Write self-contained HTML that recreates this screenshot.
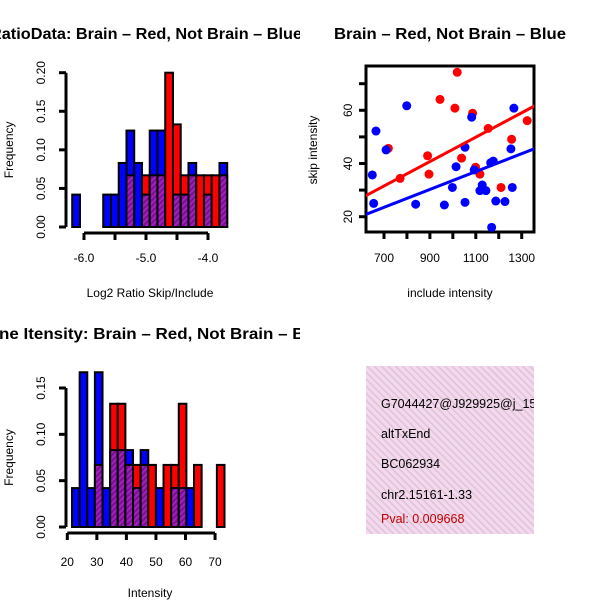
<!DOCTYPE html>
<html><head><meta charset="utf-8"><style>
html,body{margin:0;padding:0;background:#fff}
svg{display:block;font-family:"Liberation Sans",Arial,sans-serif}
</style></head><body>
<svg id="c" width="600" height="600" xmlns="http://www.w3.org/2000/svg">
<defs>
<pattern id="purp" patternUnits="userSpaceOnUse" width="4" height="4" patternTransform="rotate(45)">
<rect width="4" height="4" fill="#a020c0"/><rect width="2" height="4" fill="#7a1090"/></pattern>
<pattern id="pink" patternUnits="userSpaceOnUse" width="5" height="5" patternTransform="rotate(-45)">
<rect width="5" height="5" fill="#f6d6f0"/><rect width="1.5" height="5" fill="#d8c8d0"/></pattern>
<clipPath id="left"><rect x="0" y="0" width="300" height="600"/></clipPath>
<clipPath id="right"><rect x="300" y="0" width="300" height="600"/></clipPath>
<clipPath id="box"><rect x="366" y="66" width="168" height="166"/></clipPath>
<clipPath id="panel"><rect x="366" y="366" width="168" height="168"/></clipPath>
</defs>
<g clip-path="url(#left)">
<text x="-10" y="39" font-size="15.5" font-weight="bold" textLength="312" lengthAdjust="spacingAndGlyphs">RatioData: Brain – Red, Not Brain – Blue</text>
<text x="-1" y="339" font-size="15.5" font-weight="bold" textLength="330" lengthAdjust="spacingAndGlyphs">ne Itensity: Brain – Red, Not Brain – Blue</text>
</g>
<g clip-path="url(#right)">
<text x="450" y="39" font-size="15.5" font-weight="bold" text-anchor="middle" textLength="232" lengthAdjust="spacingAndGlyphs">Brain – Red, Not Brain – Blue</text>
</g>
<g id="h1"></g>
<g id="h2"></g>
<g id="sc"></g>
<g clip-path="url(#panel)" font-size="12.5">
<rect x="366" y="366" width="168" height="168" fill="url(#pink)"/>
<text x="381" y="408">G7044427@J929925@j_151</text>
<text x="381" y="438">altTxEnd</text>
<text x="381" y="468">BC062934</text>
<text x="381" y="499">chr2.15161-1.33</text>
<text x="381" y="523" fill="#c00000">Pval: 0.009668</text>
</g>
</svg>
<script>
// Histogram 1 data (log2 ratio)
const h1Start = -6.19, h1Width = 0.125;
const h1Red  = [0,0,0,0,0,0,0,0.067,0,0.067,0.067,0.067,0.2,0.133,0.067,0.067,0.067,0.067,0.067,0.067];
const h1Blue = [0.042,0,0,0,0.042,0.042,0.083,0.125,0.083,0.042,0.125,0.125,0,0.042,0.042,0.083,0,0.042,0,0.083];
const h1XTicks = [-6.0,-5.5,-5.0,-4.5,-4.0];
const h1XLabels = ["-6.0","","-5.0","","-4.0"];
const h1YTicks = [0,0.05,0.10,0.15,0.20];
const h1YLabels = ["0.00","0.05","0.10","0.15","0.20"];
// Histogram 2 data (intensity)
const h2Start = 21.6, h2Width = 2.58;
const h2Red  = [0,0,0,0.067,0,0.133,0.133,0.067,0.067,0.067,0.067,0,0.067,0.067,0.133,0,0.067,0,0,0.067];
const h2Blue = [0.042,0.167,0.042,0.167,0.042,0.083,0.083,0.083,0.042,0.083,0,0.042,0,0.042,0.042,0.042,0,0,0,0];
const h2XTicks = [20,30,40,50,60,70];
const h2YTicks = [0,0.05,0.10,0.15];
const h2YLabels = ["0.00","0.05","0.10","0.15"];
// Scatter data
const redX = [1019,944,1009,1086,719,770,890,896,1038,1099,1118,1154,1256,1324,1210];
const redY = [74.3,64.1,60.8,58.9,45.7,34.4,42.9,36,42,38.6,36,53.2,49.1,56.1,31];
const blueX = [799,665,709,649,655,838,963,998,1014,1053,1053,1082,1093,1128,1118,1144,1165,1176,1169,1187,1227,1253,1259,1266];
const blueY = [61.7,52.2,45.1,35.7,25,24.7,24.4,31,38.8,46.1,25.4,57.4,37.6,31.9,29.8,29.8,40.3,40.9,16,25.9,25.7,45.5,31,60.8];
// trend lines: [intercept, slope]
const redLine = [-0.57, 0.04587];
const blueLine = [0.0, 0.03361];
const scXTicks = [700,800,900,1000,1100,1200,1300];
const scXLabels = ["700","","900","","1100","","1300"];
const scYTicks = [20,30,40,50,60,70];
const scYLabels = ["20","","40","","60",""];

const NS="http://www.w3.org/2000/svg";
function mk(parent,tag,attrs,text){const e=document.createElementNS(NS,tag);for(const k in attrs)e.setAttribute(k,attrs[k]);if(text!==undefined)e.textContent=text;parent.appendChild(e);return e;}

function hist(gid,start,width,red,blue,xs,ys,xTicks,xLabels,yTicks,yLabels,yAxisX,xAxisY,yTickLabX,xTickLabY,xTitle,xTitleY,yTitleX){
  const g=document.getElementById(gid);
  red.forEach((r,i)=>{
    const b=blue[i];
    const x0=xs(start+i*width), x1=xs(start+(i+1)*width);
    const top=Math.max(r,b), lo=Math.min(r,b);
    if(top>0){
      const el=mk(g,'rect',{x:x0,y:ys(top),width:x1-x0,height:ys(0)-ys(top),fill:r>=b?'#ff0000':'#0000ff',stroke:'#000','stroke-width':2});
      
      
    }
    if(lo>0){
      const el=mk(g,'rect',{x:x0,y:ys(lo),width:x1-x0,height:ys(0)-ys(lo),fill:'url(#purp)',stroke:'#000','stroke-width':2});
      
      
    }
  });
  const ya=mk(g,'g',{});
  
  
  mk(ya,'line',{x1:yAxisX,x2:yAxisX,y1:ys(yTicks[0]),y2:ys(yTicks[yTicks.length-1]),stroke:'#000','stroke-width':3});
  yTicks.forEach((t,i)=>{
    mk(ya,'line',{x1:yAxisX-7,x2:yAxisX,y1:ys(t),y2:ys(t),stroke:'#000','stroke-width':3});
    const tl=mk(ya,'text',{x:yTickLabX,y:ys(t),'font-size':12,'text-anchor':'middle',transform:`rotate(-90 ${yTickLabX} ${ys(t)})`},yLabels[i]);
    
    
  });
  const my=(ys(yTicks[0])+ys(yTicks[yTicks.length-1]))/2;
  const yt=mk(ya,'text',{x:yTitleX,y:my,'font-size':12,'text-anchor':'middle',transform:`rotate(-90 ${yTitleX} ${my})`},'Frequency');
  
  
  const xa=mk(g,'g',{});
  
  
  mk(xa,'line',{x1:xs(xTicks[0]),x2:xs(xTicks[xTicks.length-1]),y1:xAxisY,y2:xAxisY,stroke:'#000','stroke-width':3});
  xTicks.forEach((t,i)=>{
    mk(xa,'line',{x1:xs(t),x2:xs(t),y1:xAxisY,y2:xAxisY+7,stroke:'#000','stroke-width':3});
    const tl=mk(xa,'text',{x:xs(t),y:xTickLabY,'font-size':12,'text-anchor':'middle'},xLabels[i]);
    
    
  });
  const xt=mk(xa,'text',{x:150,y:xTitleY,'font-size':12,'text-anchor':'middle'},xTitle);
  
  
}
const xs1=v=>84+(v+6)*62, ys1=v=>227-v*(154.3/0.2);
hist('h1',h1Start,h1Width,h1Red,h1Blue,xs1,ys1,h1XTicks,h1XLabels,h1YTicks,h1YLabels,66,233,45,262,'Log2 Ratio Skip/Include',297,13);
const xs2=v=>67.3+(v-20)*2.955, ys2=v=>527-v*(139/0.15);
hist('h2',h2Start,h2Width,h2Red,h2Blue,xs2,ys2,h2XTicks,h2XTicks.map(String),h2YTicks,h2YLabels,66,533,45,566,'Intensity',597,13);

const sx=v=>384+(v-700)*0.2295, sy=v=>216.7-(v-20)*2.66;
const sg=document.getElementById('sc');
mk(sg,'rect',{x:366,y:66,width:168,height:166,fill:'none',stroke:'#000','stroke-width':3});
const pts=mk(sg,'g',{'clip-path':'url(#box)'});


redX.forEach((x,i)=>{const c=mk(pts,'circle',{cx:sx(x),cy:sy(redY[i]),r:4.5,fill:'#ff0000'});
  
  });
blueX.forEach((x,i)=>{const c=mk(pts,'circle',{cx:sx(x),cy:sy(blueY[i]),r:4.5,fill:'#0000ff'});
  
  });
[[redLine,'#ff0000','fit-line-red'],[blueLine,'#0000ff','fit-line-blue']].forEach(([L,col,nm])=>{
  const [a,b]=L;const x0=600,x1=1400;
  const l=mk(pts,'line',{x1:sx(x0),y1:sy(a+b*x0),x2:sx(x1),y2:sy(a+b*x1),stroke:col,'stroke-width':3});
  
  
});
scXTicks.forEach((t,i)=>{mk(sg,'line',{x1:sx(t),x2:sx(t),y1:232,y2:239,stroke:'#000','stroke-width':3});
  const tl=mk(sg,'text',{x:sx(t),y:262,'font-size':12,'text-anchor':'middle'},scXLabels[i]);
  
  });
scYTicks.forEach((t,i)=>{mk(sg,'line',{x1:359,x2:366,y1:sy(t),y2:sy(t),stroke:'#000','stroke-width':3});
  const tl=mk(sg,'text',{x:352,y:sy(t),'font-size':12,'text-anchor':'middle',transform:`rotate(-90 352 ${sy(t)})`},scYLabels[i]);
  
  });
const xt=mk(sg,'text',{x:450,y:297,'font-size':12,'text-anchor':'middle'},'include intensity');


const yt=mk(sg,'text',{x:317,y:150,'font-size':12,'text-anchor':'middle',transform:'rotate(-90 317 150)'},'skip intensity');


</script>
</body></html>
